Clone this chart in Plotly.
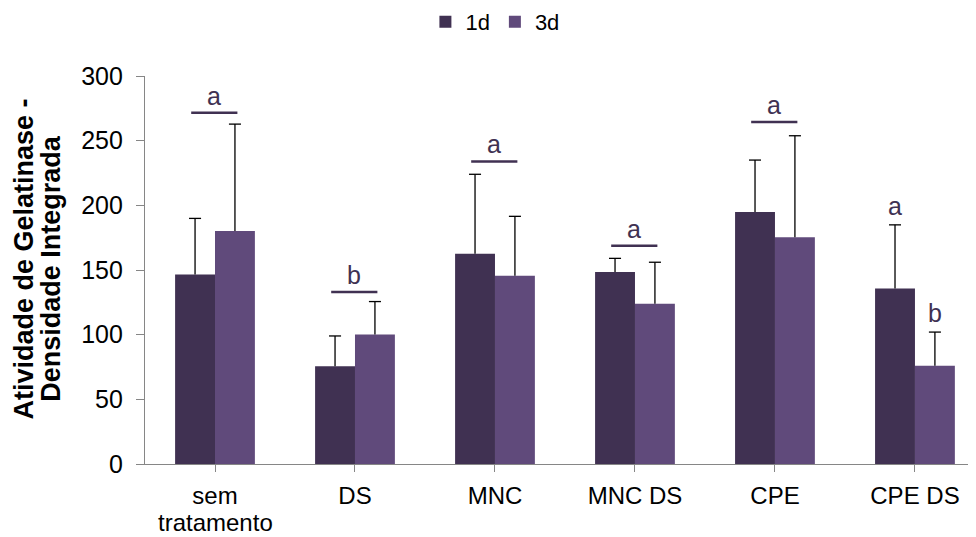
import plotly.graph_objects as go

categories = ["sem", "DS", "MNC", "MNC DS", "CPE", "CPE DS"]
first_label_line2 = "tratamento"
d1_values = [146.6, 75.6, 162.6, 148.5, 194.9, 135.6]
d1_err = [43.3, 23.4, 61.4, 10.5, 40.1, 49.3]
d3_values = [180.2, 100.2, 145.6, 124.0, 175.4, 75.9]
d3_err = [82.6, 25.4, 45.9, 32.0, 78.4, 26.1]

# significance bracket lines over groups (value heights) and letters
bracket_groups = [0, 1, 2, 3, 4]
bracket_heights = [271.5, 133, 233.9, 168.7, 264.5]
bracket_letters = ["a", "b", "a", "a", "a"]
# single-bar letters for group CPE DS: (letter, group, offset, height)
single_letters = [("a", 5, -0.14, 187), ("b", 5, 0.14, 104)]

DARK = "#403152"
LIGHT = "#604A7B"
FONT = "Liberation Sans, Arial"
BARGAP = 0.43
x = list(range(len(categories)))

fig = go.Figure()
fig.add_trace(go.Bar(name="1d", x=x, y=d1_values,
                     marker=dict(color=DARK, line=dict(width=0))))
fig.add_trace(go.Bar(name="3d", x=x, y=d3_values,
                     marker=dict(color=LIGHT, line=dict(width=0))))

# one-sided error bars (upper whisker + top cap only), placed at the bar centres
bar_w = (1 - BARGAP) / 2
cap = 0.043
for vals, errs, off in [(d1_values, d1_err, -bar_w / 2), (d3_values, d3_err, bar_w / 2)]:
    ex, ey = [], []
    for i, (v, e) in enumerate(zip(vals, errs)):
        xc = i + off
        ex += [xc, xc, None, xc - cap, xc + cap, None]
        ey += [v, v + e, None, v + e, v + e, None]
    fig.add_trace(go.Scatter(x=ex, y=ey, mode="lines", showlegend=False,
                             hoverinfo="skip",
                             line=dict(color="#000000", width=1.3)))

for g, h, letter in zip(bracket_groups, bracket_heights, bracket_letters):
    fig.add_shape(type="line", xref="x", yref="y", x0=g - 0.17, x1=g + 0.16,
                  y0=h, y1=h, line=dict(color=DARK, width=2.5))
    fig.add_annotation(x=g - 0.005, y=h, xref="x", yref="y", text=letter,
                       showarrow=False, yanchor="bottom", yshift=1,
                       font=dict(size=25, color=DARK, family=FONT))

for letter, g, off, h in single_letters:
    fig.add_annotation(x=g + off, y=h, xref="x", yref="y", text=letter,
                       showarrow=False, yanchor="bottom",
                       font=dict(size=25, color=DARK, family=FONT))

# second line of the first category label (tighter line spacing than <br>)
fig.add_annotation(x=0, y=0, xref="x", yref="paper", text=first_label_line2,
                   showarrow=False, xanchor="center", yanchor="bottom", yshift=-72.5,
                   borderpad=0, font=dict(size=24, color="#000000", family=FONT))

# y-axis title as two lines (tight line spacing as in the reference)
plot_w = 831
fig.add_annotation(x=(24 - 145) / plot_w, y=0.527, xref="paper", yref="paper",
                   text="<b>Atividade de Gelatinase -</b>", textangle=-90,
                   showarrow=False, xanchor="center", yanchor="middle",
                   font=dict(size=27, color="#000000", family=FONT))
fig.add_annotation(x=(51 - 145) / plot_w, y=0.503, xref="paper", yref="paper",
                   text="<b>Densidade Integrada</b>", textangle=-90,
                   showarrow=False, xanchor="center", yanchor="middle",
                   font=dict(size=27, color="#000000", family=FONT))

# the page body adds an 8px offset, so the figure is sized to fit the window
fig.update_layout(
    width=968, height=529,
    margin=dict(l=137, r=0, t=68, b=73),
    paper_bgcolor="white", plot_bgcolor="white",
    barmode="group", bargap=BARGAP, bargroupgap=0,
    font=dict(family=FONT, color="#000000"),
    legend=dict(orientation="h", xref="container", yref="container",
                x=0.503, xanchor="center", y=0.9735, yanchor="middle",
                font=dict(size=22, color="#000000"), traceorder="normal"),
    xaxis=dict(
        tickmode="array", tickvals=x, ticktext=categories,
        range=[-0.5, 5.436], showline=True, linecolor="#868686", linewidth=1.3,
        ticks="outside", tickson="boundaries", ticklen=7, tickcolor="#868686",
        tickfont=dict(size=24, color="#000000"), showgrid=False, zeroline=False,
        automargin=False, ticklabelstandoff=3,
    ),
    yaxis=dict(
        range=[0, 300], dtick=50, showline=True, linecolor="#868686", linewidth=1.3,
        ticks="outside", ticklen=8, tickcolor="#868686", showgrid=False, zeroline=False,
        tickfont=dict(size=25, color="#000000"), automargin=False, ticklabelstandoff=8,
    ),
)

fig.write_html("out.html")
